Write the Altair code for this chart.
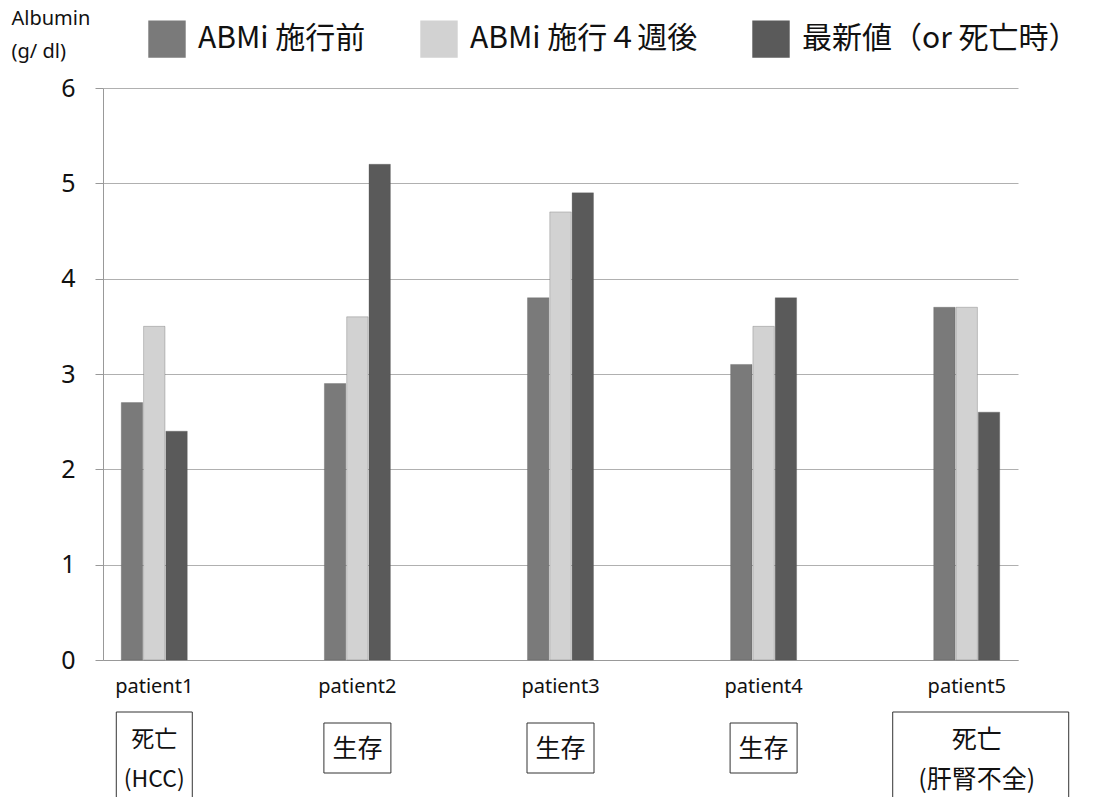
import altair as alt
import pandas as pd

patients = ["patient1", "patient2", "patient3", "patient4", "patient5"]
series = ["ABMi 施行前", "ABMi 施行４週後", "最新値（or 死亡時）"]
before = [2.7, 2.9, 3.8, 3.1, 3.7]
after4w = [3.5, 3.6, 4.7, 3.5, 3.7]
latest = [2.4, 5.2, 4.9, 3.8, 2.6]
status = ["死亡\n(HCC)", "生存", "生存", "生存", "死亡\n(肝腎不全)"]
colors = ["#7a7a7a", "#d2d2d2", "#5a5a5a"]

rows = []
for i, p in enumerate(patients):
    for s, vals in zip(series, [before, after4w, latest]):
        rows.append({"patient": p, "series": s, "value": vals[i]})
df = pd.DataFrame(rows)
sdf = pd.DataFrame({"patient": patients, "status": status})

FONT = "Noto Sans CJK JP"

xscale = alt.Scale(domain=patients, paddingInner=0.675, paddingOuter=0.09)

bars = alt.Chart(df).mark_bar(stroke="#555555", strokeWidth=0.3).encode(
    x=alt.X("patient:N", scale=xscale, sort=patients,
            axis=alt.Axis(title=None, labelAngle=0, labelFontSize=20, labelColor="#111",
                          labelFont="Noto Sans", labelPadding=16, ticks=False,
                          domainColor="#999999", grid=False)),
    xOffset=alt.XOffset("series:N", sort=series, scale=alt.Scale(paddingInner=0.04)),
    y=alt.Y("value:Q", scale=alt.Scale(domain=[0, 6]),
            axis=alt.Axis(values=[0, 1, 2, 3, 4, 5, 6], format="d", labelFontSize=25,
                          labelColor="#111", labelFont="Noto Sans", labelPadding=20,
                          tickColor="#999999", tickSize=8, domainColor="#999999",
                          gridColor="#b0b0b0", gridWidth=1,
                          title=["Albumin", "(g/ dl)"], titleAngle=0, titleFontSize=20,
                          titleFontWeight="normal", titleFont="Noto Sans", titleColor="#111",
                          titleAlign="left", titleBaseline="top", titleX=-92, titleY=-80,
                          titleLineHeight=33)),
    color=alt.Color("series:N", sort=series,
                    scale=alt.Scale(domain=series, range=colors),
                    legend=alt.Legend(title=None, orient="none", direction="horizontal",
                                      legendX=45, legendY=-68, symbolType="square",
                                      symbolSize=1400, symbolStrokeWidth=0,
                                      labelFontSize=30, labelFont=FONT, labelColor="#111",
                                      labelLimit=400, columnPadding=54, labelOffset=12)),
)

box_std = alt.Chart(sdf).transform_filter(alt.datum.status == "生存").mark_bar(
    width=67, fill="white", stroke="#333333", strokeWidth=1).encode(
    x=alt.X("patient:N", scale=xscale, sort=patients),
    y=alt.value(635), y2=alt.value(685))
box_p1 = alt.Chart(sdf).transform_filter(alt.datum.patient == "patient1").mark_bar(
    width=76, fill="white", stroke="#333333", strokeWidth=1).encode(
    x=alt.X("patient:N", scale=xscale, sort=patients),
    y=alt.value(624), y2=alt.value(740))
box_p5 = alt.Chart(sdf).transform_filter(alt.datum.patient == "patient5").mark_bar(
    width=176, fill="white", stroke="#333333", strokeWidth=1, xOffset=14).encode(
    x=alt.X("patient:N", scale=xscale, sort=patients),
    y=alt.value(624), y2=alt.value(740))

def status_text(cond, y, dx, size):
    return alt.Chart(sdf).transform_filter(cond).mark_text(
        font=FONT, fontSize=size, color="#111", lineBreak="\n", lineHeight=40,
        baseline="middle", dx=dx).encode(
        x=alt.X("patient:N", scale=xscale, sort=patients),
        y=alt.value(y),
        text="status:N")

texts_single = status_text(alt.datum.status == "生存", 661, 0, 25)
texts_p1 = status_text(alt.datum.patient == "patient1", 652, 0, 23)
texts_p5 = status_text(alt.datum.patient == "patient5", 652, 10, 25)

chart = alt.layer(bars, box_std, box_p1, box_p5, texts_single, texts_p1, texts_p5).properties(
    width=915, height=572,
    autosize=alt.AutoSizeParams(type="none"),
    padding={"left": 103, "top": 88, "right": 81, "bottom": 137},
).configure_view(stroke=None)

chart.save("out.html", embed_options={"renderer": "svg", "actions": False})
